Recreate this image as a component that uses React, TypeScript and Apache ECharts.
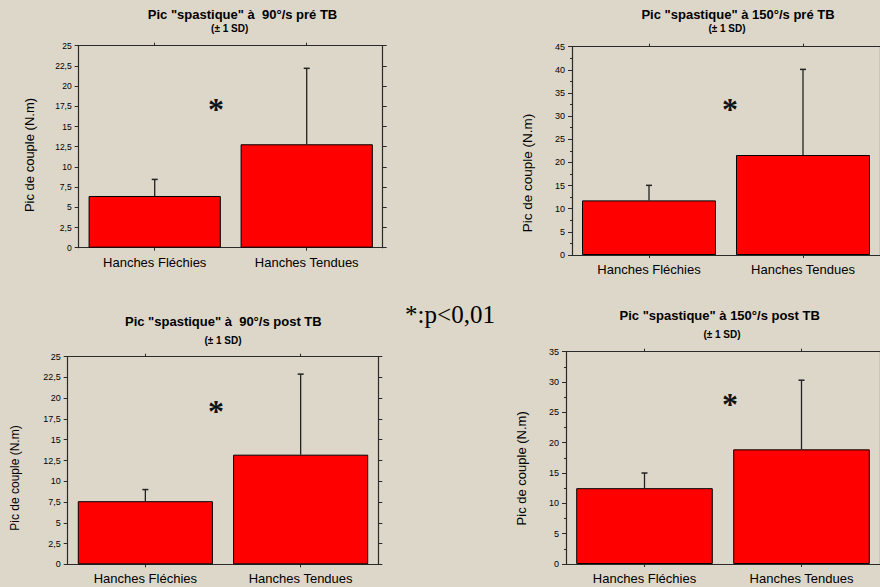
import React, { useEffect, useRef } from 'react';
import * as echarts from 'echarts';

const categories = ['Hanches Fléchies', 'Hanches Tendues'];
const titles = [
  'Pic "spastique" à  90°/s pré TB',
  'Pic "spastique" à 150°/s pré TB',
  'Pic "spastique" à  90°/s post TB',
  'Pic "spastique" à 150°/s post TB',
];
const subtitle = '(± 1 SD)';
const yAxisTitle = 'Pic de couple (N.m)';
const significanceMark = '*';
const significanceNote = '*:p<0,01';

const pre90Mean = [6.4, 12.8];
const pre90Upper = [8.45, 22.2];
const pre150Mean = [11.8, 21.6];
const pre150Upper = [15.05, 40.1];
const post90Mean = [7.6, 13.2];
const post90Upper = [9.0, 22.9];
const post150Mean = [12.5, 18.9];
const post150Upper = [15.0, 30.3];

const yMax = [25, 45, 25, 35];
const yInterval = [2.5, 5, 2.5, 5];

const means = [pre90Mean, pre150Mean, post90Mean, post150Mean];
const uppers = [pre90Upper, pre150Upper, post90Upper, post150Upper];

const FONT = '"Liberation Sans", Arial, sans-serif';
const SERIF = '"Liberation Serif", "Times New Roman", serif';

const layouts = [
  { grid: { left: 78.7, right: 497.3, top: 45.7, bottom: 339.3 }, titleX: 242.5, titleY: 14, subX: 229.7, subY: 28, nameX: 29, nameY: 155, nameSize: 13, starX: 216, starY: 105, tickSize: 8.5, minor: false },
  { grid: { left: 572, right: -3.4, top: 46.7, bottom: 332 }, titleX: 738, titleY: 14, subX: 727, subY: 28, nameX: 527.7, nameY: 173, nameSize: 13.5, starX: 730, starY: 105, tickSize: 9, minor: true },
  { grid: { left: 67.7, right: 501.7, top: 356.7, bottom: 22.7 }, titleX: 223.3, titleY: 321.7, subX: 223, subY: 340, nameX: 15, nameY: 478, nameSize: 12, starX: 216, starY: 406.7, tickSize: 9, minor: false },
  { grid: { left: 566, right: -3.4, top: 351.7, bottom: 23 }, titleX: 719.7, titleY: 315.7, subX: 722, subY: 334, nameX: 521.7, nameY: 468.3, nameSize: 13, starX: 730, starY: 400, tickSize: 9, minor: true },
];

const AXIS_COLOR = '#2a2a2a';

export default function App() {
  const ref = useRef<HTMLDivElement>(null);
  useEffect(() => {
    if (!ref.current) return;
    const chart = echarts.init(ref.current, undefined, { renderer: 'svg' });

    const grids: any[] = [];
    const xAxes: any[] = [];
    const yAxes: any[] = [];
    const series: any[] = [];
    const graphics: any[] = [];

    layouts.forEach((L, k) => {
      grids.push({ ...L.grid, containLabel: false });
      const xBase = {
        type: 'category',
        gridIndex: k,
        data: categories,
        axisLine: { show: true, onZero: false, lineStyle: { color: AXIS_COLOR, width: 1.2 } },
        axisTick: { show: true, alignWithLabel: true, length: 3, lineStyle: { color: AXIS_COLOR } },
        splitLine: { show: false },
      };
      xAxes.push({
        ...xBase,
        position: 'bottom',
        axisLabel: { color: '#000', fontSize: 13, fontFamily: FONT, margin: 8 },
      });
      xAxes.push({ ...xBase, position: 'top', axisLabel: { show: false } });
      const fmt = (v: number) => String(v).replace('.', ',');
      const yBase = {
        type: 'value',
        gridIndex: k,
        min: 0,
        max: yMax[k],
        interval: yInterval[k],
        axisLine: { show: true, lineStyle: { color: AXIS_COLOR, width: 1.2 } },
        axisTick: { show: true, length: 4, lineStyle: { color: AXIS_COLOR } },
        minorTick: { show: L.minor, splitNumber: 2, length: 2, lineStyle: { color: AXIS_COLOR } },
        splitLine: { show: false },
        minorSplitLine: { show: false },
      };
      yAxes.push({
        ...yBase,
        position: 'left',
        axisLabel: { color: '#000', fontSize: L.tickSize, fontFamily: FONT, margin: 7, formatter: fmt },
      });
      yAxes.push({ ...yBase, position: 'right', minorTick: { show: false }, axisLabel: { show: false } });

      series.push({
        type: 'bar',
        xAxisIndex: 2 * k,
        yAxisIndex: 2 * k,
        data: means[k],
        barWidth: '87%',
        itemStyle: { color: '#ff0000', borderColor: '#000', borderWidth: 1 },
        z: 2,
      });
      series.push({
        type: 'custom',
        xAxisIndex: 2 * k,
        yAxisIndex: 2 * k,
        z: 3,
        data: categories.map((_, i) => [i, means[k][i], uppers[k][i]]),
        encode: { x: 0, y: [1, 2] },
        renderItem: (params: any, api: any) => {
          const i = api.value(0);
          const p0 = api.coord([i, api.value(1)]);
          const p1 = api.coord([i, api.value(2)]);
          return {
            type: 'group',
            children: [
              { type: 'line', shape: { x1: p0[0], y1: p0[1], x2: p1[0], y2: p1[1] }, style: { stroke: '#222', lineWidth: 1.3 } },
              { type: 'line', shape: { x1: p1[0] - 3, y1: p1[1], x2: p1[0] + 3, y2: p1[1] }, style: { stroke: '#222', lineWidth: 1.5 } },
            ],
          };
        },
      });

      graphics.push({
        type: 'text', x: L.titleX, y: L.titleY,
        style: { text: titles[k], font: `bold 13px ${FONT}`, fill: '#000', align: 'center', verticalAlign: 'middle' },
      });
      graphics.push({
        type: 'text', x: L.subX, y: L.subY,
        style: { text: subtitle, font: `bold 10px ${FONT}`, fill: '#000', align: 'center', verticalAlign: 'middle' },
      });
      graphics.push({
        type: 'text', x: L.nameX, y: L.nameY, rotation: Math.PI / 2,
        style: { text: yAxisTitle, font: `${L.nameSize}px ${FONT}`, fill: '#000', align: 'center', verticalAlign: 'middle' },
      });
      graphics.push({
        type: 'text', x: L.starX, y: L.starY + 4,
        style: { text: significanceMark, font: `bold 32px ${SERIF}`, fill: '#111', align: 'center', verticalAlign: 'middle' },
      });
    });

    graphics.push({
      type: 'text', x: 450, y: 314,
      style: { text: significanceNote, font: `25px ${SERIF}`, fill: '#000', align: 'center', verticalAlign: 'middle' },
    });

    chart.setOption({
      animation: false,
      backgroundColor: '#ddd7c9',
      grid: grids,
      xAxis: xAxes,
      yAxis: yAxes,
      series,
      graphic: graphics,
    });
    return () => chart.dispose();
  }, []);

  return (
    <div
      ref={ref}
      style={{ position: 'absolute', left: 0, top: 0, width: 880, height: 587 }}
    />
  );
}
